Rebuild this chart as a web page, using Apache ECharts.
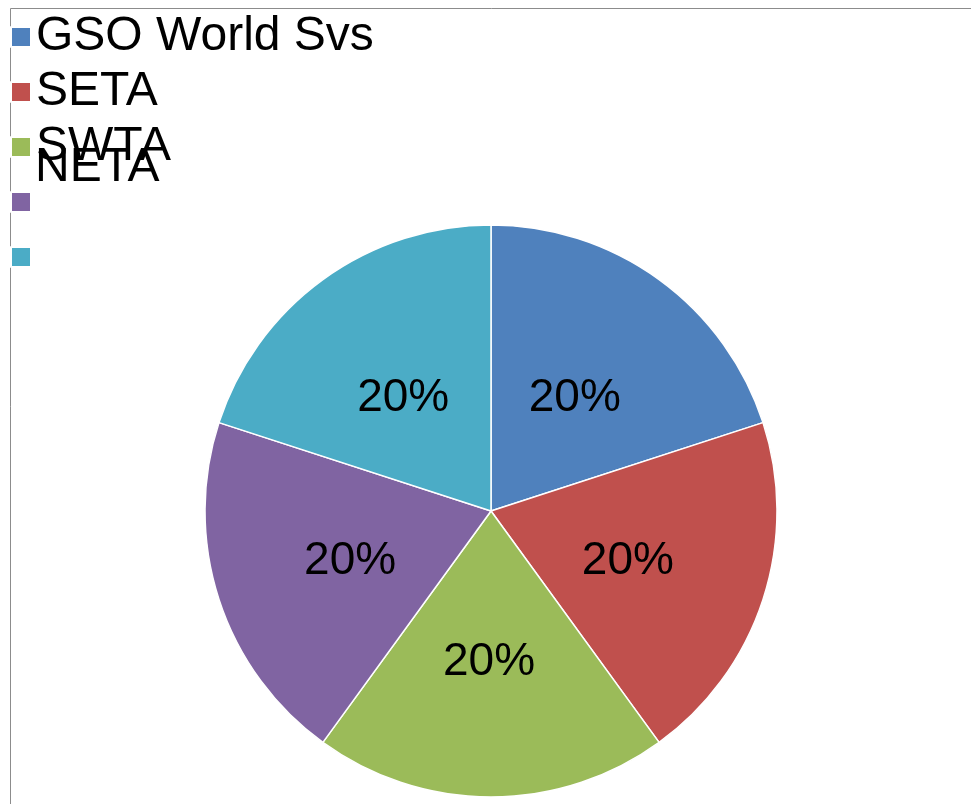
<!DOCTYPE html>
<html>
<head>
<meta charset="utf-8">
<script src="https://cdn.jsdelivr.net/npm/echarts@6/dist/echarts.min.js"></script>
<style>
  html, body { margin: 0; padding: 0; background: #fff; }
  #chartPie { width: 971px; height: 804px; }
</style>
</head>
<body>
<div id="chartPie"></div>
<script>
// regions in the pie, clockwise from 12 o'clock
var categories = ['GSO World Svs', 'SETA', 'SWTA', 'NETA', 'Other']
var values = [20, 20, 20, 20, 20]
// what the legend actually prints next to each swatch
var legendLabels = ['GSO World Svs', 'SETA', 'SWTA', '', '']
var colors = ['#4F81BD', '#C0504D', '#9BBB59', '#8064A2', '#4BACC6']

var font = '"Liberation Sans", Arial, sans-serif'

var chart = echarts.init(document.getElementById('chartPie'))

var pieData = categories.map(function (name, i) {
  return { name: name, value: values[i] }
})

var legendText = { fontFamily: font, fontSize: 48, lineHeight: 48, color: '#000' }

chart.setOption({
  animation: false,
  backgroundColor: '#fff',
  color: colors,
  graphic: [
    {
      type: 'rect',
      shape: { x: 10.5, y: 8.5, width: 980, height: 820 },
      style: { fill: 'none', stroke: '#8c8c8c', lineWidth: 1 },
      silent: true
    }
  ],
  legend: [
    {
      orient: 'vertical',
      left: 10,
      top: 13,
      padding: 0,
      itemWidth: 20,
      itemHeight: 20,
      itemGap: 7,
      icon: 'rect',
      selectedMode: false,
      data: categories,
      formatter: function (name) {
        var label = legendLabels[categories.indexOf(name)]
        return label ? label : ' '
      },
      textStyle: legendText
    },
    {
      // the stray NETA label that sits over SWTA
      orient: 'vertical',
      left: 10,
      top: 144,
      padding: 0,
      itemWidth: 20,
      itemHeight: 20,
      icon: 'none',
      selectedMode: false,
      data: ['NETA'],
      textStyle: legendText
    }
  ],
  series: [
    {
      type: 'pie',
      center: [491, 511],
      radius: 286,
      startAngle: 90,
      clockwise: true,
      itemStyle: { borderColor: '#fff', borderWidth: 1.5 },
      label: {
        show: true,
        position: 'inside',
        fontFamily: font,
        fontSize: 46,
        color: '#000',
        offset: [-2, 5],
        formatter: function (p) { return Math.round(p.percent) + '%' }
      },
      labelLine: { show: false },
      emphasis: { scale: false },
      data: pieData
    }
  ]
})
</script>
</body>
</html>
